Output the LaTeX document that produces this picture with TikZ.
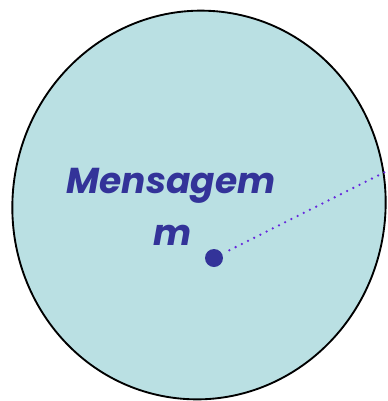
\documentclass[tikz,border=0pt]{standalone}
\usepackage{fontspec}
\newfontfamily\labelfont{Poppins}
\definecolor{discfill}{RGB}{186,224,227}
\definecolor{textblue}{RGB}{51,51,153}
\definecolor{dotline}{RGB}{102,40,220}
\tikzset{
  disc/.style={fill=discfill, draw=black, line width=1.4pt},
  lbl/.style={text=textblue, font=\labelfont\bfseries\itshape\fontsize{27}{32}\selectfont, inner sep=0pt},
  centre/.style={circle, fill=textblue, minimum size=13.5pt, inner sep=0pt},
  radiusline/.style={dotline, line width=1.9pt, line cap=round, dash pattern=on 0pt off 5.2pt, shorten <=6pt}
}
\begin{document}
\begin{tikzpicture}[x=0.75pt, y=-0.75pt]
\useasboundingbox (0,0) rectangle (387,401);
\path[disc, rotate around={-8:(199,205)}] (199,205) ellipse [x radius=186.5, y radius=194.5];
\node[lbl, anchor=base] (title) at (171,193) {Mensagem};
\node[lbl, anchor=base] (msg) at (173,245) {m};
\node[centre] (c) at (214,258) {};
\coordinate (r) at (385,172);
\draw[radiusline] (c) -- (r);
\end{tikzpicture}
\end{document}
